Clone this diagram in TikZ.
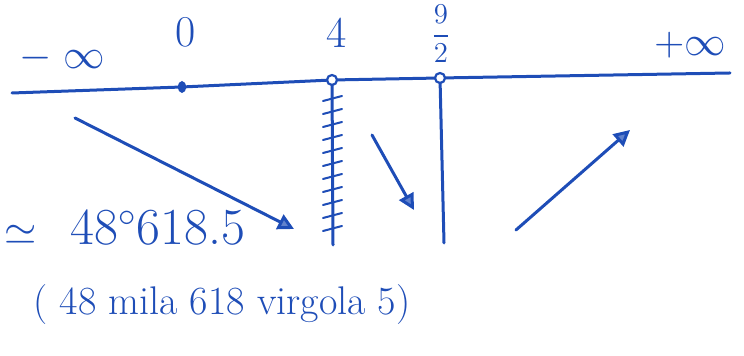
\documentclass[tikz,border=0pt]{standalone}
\usepackage{amsmath,amssymb}
\usepackage{tikz}
\usetikzlibrary{arrows.meta,positioning,calc,shapes.geometric}
\definecolor{ink}{HTML}{1E4DB7}
\tikzset{
  pen/.style={draw=ink,line width=1.5pt,line cap=round,line join=round},
  arr/.style={pen,-{Triangle[length=8pt,width=8pt,fill=ink!70]}},
  hatch/.style={draw=ink,line width=1pt,line cap=round},
  dotpt/.style={ellipse,fill=ink,minimum width=4pt,minimum height=6pt,inner sep=0pt},
  openpt/.style={circle,draw=ink,line width=1.1pt,fill=white,minimum size=5pt,inner sep=0pt},
  lbl/.style={text=ink,font=\fontsize{22}{24}\selectfont,inner sep=0pt},
  big/.style={text=ink,font=\fontsize{20}{22}\selectfont,inner sep=0pt},
}
\begin{document}
\begin{tikzpicture}[x=0.5pt,y=-0.5pt]
  \useasboundingbox (0,0) rectangle (744,356);
  % axis
  \coordinate (axl) at (12,93);
  \coordinate (axr) at (730,73);
  \node[dotpt] (p0) at (182,87) {};
  \coordinate (p4) at (332,80);
  \coordinate (p92) at (440,78);
  \draw[pen] (axl) -- (p0.center) -- (p4) -- (p92) -- (axr);
  % labels above
  \node[lbl] (minf) at (62,58) {$-\;\infty$};
  \node[lbl] (zero) at (186,32) {0};
  \node[lbl] (four) at (337,33) {4};
  \node[lbl,font=\fontsize{15}{17}\selectfont] (nine) at (441,34) {$\dfrac{9}{2}$};
  \node[lbl] (pinf) at (690,45) {$+\infty$};
  % vertical lines
  \coordinate (v4) at (333,245);
  \coordinate (v92) at (444,243);
  \draw[pen] (p4) -- (v4);
  \foreach \y in {98,111,...,240}
    \draw[hatch] ($(p4)+(-9,\y-77)$) -- ++(19,-5);
  \draw[pen] (p92) -- (v92);
  \node[openpt] (c4) at (p4) {};
  \node[openpt] (c92) at (p92) {};
  % monotonicity arrows
  \coordinate (a1s) at (75,118);
  \coordinate (a1e) at (294,229);
  \coordinate (a2s) at (372,135);
  \coordinate (a2e) at (414,210);
  \coordinate (a3s) at (516,230);
  \coordinate (a3e) at (630,130);
  \draw[arr] (a1s) -- (a1e);
  \draw[arr] (a2s) -- (a2e);
  \draw[arr] (a3s) -- (a3e);
  % value
  \node[big,anchor=west] (val) at (4,228) {$\simeq$\;\; {\fontsize{26}{28}\selectfont 48$^\circ$618.5}};
  \node[big] (read) at (222,305) {( 48 mila 618 virgola 5)};
\end{tikzpicture}
\end{document}
